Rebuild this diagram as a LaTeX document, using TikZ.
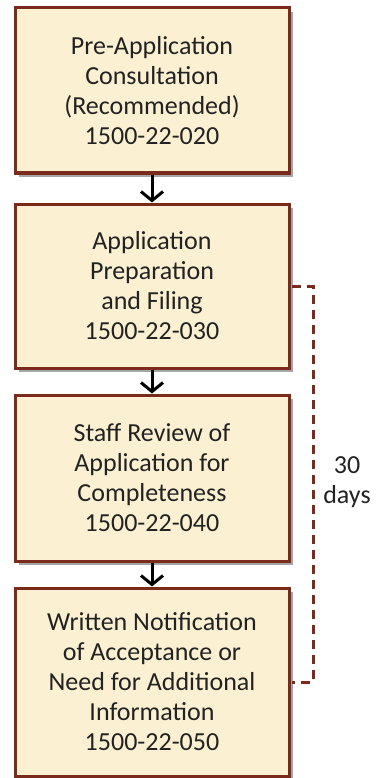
\documentclass[tikz,border=0pt]{standalone}
\usepackage{fontspec}
\setmainfont{Carlito}
\usetikzlibrary{arrows.meta,shadows}
\definecolor{boxfill}{HTML}{FBF0D2}
\definecolor{boxedge}{HTML}{7A2B1C}
\definecolor{txt}{HTML}{222222}
\tikzset{
  stepbox/.style={draw=boxedge, line width=3pt, fill=boxfill, rectangle,
    minimum width=274pt, inner sep=0pt, align=center, text=txt,
    font=\fontsize{26}{30}\selectfont,
    drop shadow={shadow xshift=4pt, shadow yshift=-4pt, fill=black!35, opacity=1}},
  flow/.style={line width=3pt, -{Straight Barb[length=9pt,width=22pt,line width=3pt]}},
  bracket/.style={draw=boxedge, line width=3pt, dash pattern=on 9pt off 6pt},
  lbl/.style={align=center, text=txt, font=\fontsize{26}{30}\selectfont}
}
\begin{document}
\begin{tikzpicture}[x=1pt,y=-1pt]
\useasboundingbox (0,0) rectangle (380,778);
\node[stepbox, minimum height=165pt] (b1) at (152,90.5)
  {Pre-Application\\Consultation\\(Recommended)\\1500-22-020};
\node[stepbox, minimum height=164pt] (b2) at (152,286)
  {Application\\Preparation\\and Filing\\1500-22-030};
\node[stepbox, minimum height=166pt] (b3) at (152,478)
  {Staff Review of\\Application for\\Completeness\\1500-22-040};
\node[stepbox, minimum height=188pt] (b4) at (152,682)
  {Written Notification\\of Acceptance or\\Need for Additional\\Information\\1500-22-050};
\draw[flow] (b1.south) -- (b2.north);
\draw[flow] (b2.south) -- (b3.north);
\draw[flow] (b3.south) -- (b4.north);
\coordinate (t) at (313,286);
\coordinate (u) at (313,682);
\draw[bracket] ([xshift=1.5pt]b2.east) -- (t) -- (u) -- ([xshift=1.5pt]b4.east);
\node[lbl] (d) at (347,482) {30\\days};
\end{tikzpicture}
\end{document}
